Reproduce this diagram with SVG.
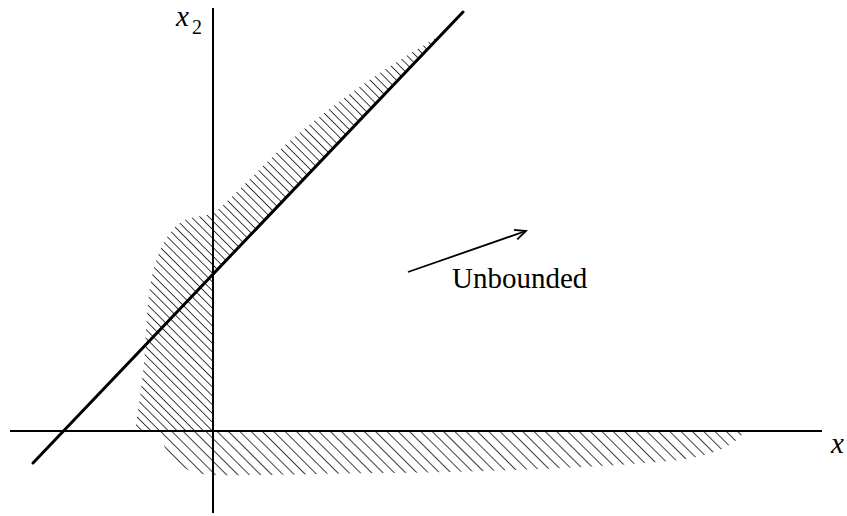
<svg xmlns="http://www.w3.org/2000/svg" width="847" height="516" viewBox="0 0 847 516">
<style>
.ax{stroke:#000;stroke-width:2;fill:none}
.ln{stroke:#000;stroke-width:3;fill:none;stroke-linecap:round}
.t{font-family:"Liberation Serif","Times New Roman",serif;fill:#000}
.hl{stroke:#000;stroke-width:1.5}
</style>
<defs>
<pattern id="h" patternUnits="userSpaceOnUse" width="6.2" height="12" patternTransform="rotate(-45)">
<line class="hl" x1="0" y1="0" x2="0" y2="12"/>
</pattern>
<pattern id="h2" patternUnits="userSpaceOnUse" width="8" height="12" patternTransform="rotate(-45)">
<line class="hl" x1="0" y1="0" x2="0" y2="12"/>
</pattern>
<marker id="ar" markerWidth="14" markerHeight="12" refX="12" refY="6" orient="auto" markerUnits="userSpaceOnUse">
<path d="M1,1 L12,6 L1,11" fill="none" stroke="#000" stroke-width="1.8"/>
</marker>
</defs>
<rect width="847" height="516" fill="#fff"/>
<g id="region-upper">
<path d="M443,33 L213,274 L213,431 L135,431 C138,410 143,380 145,350 C147,310 149,280 157,258 C165,238 175,222 190,218 L213,214 C235,195 260,168 285,145 C320,115 360,85 400,60 C415,50 430,42 443,33 Z" fill="url(#h)"/>
</g>
<g id="region-lower">
<path d="M160,431 L745,431 C735,445 715,455 680,460 C600,468 480,472 380,473 C300,474 240,476 210,475 C185,473 172,462 165,448 C162,440 160,435 160,431 Z" fill="url(#h2)"/>
</g>
<g id="connectors">
<line class="ax" x1="10" y1="431" x2="822" y2="431"/>
<line class="ax" x1="213" y1="8" x2="213" y2="513"/>
<line class="ln" x1="33" y1="463" x2="463" y2="12"/>
<line x1="408" y1="272" x2="526" y2="231" stroke="#000" stroke-width="1.8" marker-end="url(#ar)"/>
</g>
<g id="labels">
<text class="t" x="176" y="26" font-size="29" font-style="italic">x</text>
<text class="t" x="192" y="34" font-size="20">2</text>
<text class="t" x="831" y="453" font-size="29" font-style="italic">x</text>
<text class="t" x="452" y="288" font-size="29">Unbounded</text>
</g>
</svg>
